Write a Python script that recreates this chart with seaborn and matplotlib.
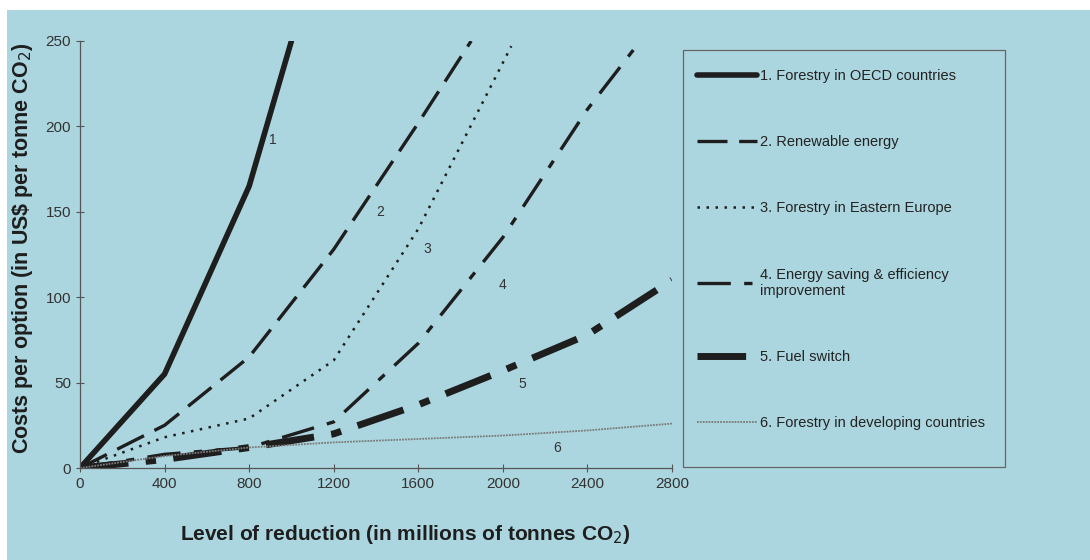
import matplotlib
matplotlib.use("Agg")
import matplotlib.pyplot as plt
import seaborn as sns
from matplotlib.patches import Rectangle

# Values
x1 = [0, 400, 800, 1000]
y1 = [0, 55, 165, 250]
x2 = [0, 400, 800, 1200, 1600, 1850]
y2 = [0, 25, 65, 128, 202, 250]
x3 = [0, 400, 800, 1200, 1600, 2040]
y3 = [0, 18, 29, 63, 140, 247]
x4 = [0, 400, 800, 1200, 1600, 2000, 2400, 2650]
y4 = [0, 8, 12, 27, 73, 135, 210, 250]
x5 = [0, 400, 800, 1200, 1600, 2000, 2400, 2800]
y5 = [0, 5, 12, 20, 37, 57, 78, 110]
x6 = [0, 400, 800, 1200, 1600, 2000, 2400, 2800]
y6 = [0, 7, 12, 15, 17, 19, 22, 26]

labels = ["1. Forestry in OECD countries",
          "2. Renewable energy",
          "3. Forestry in Eastern Europe",
          "4. Energy saving & efficiency\nimprovement",
          "5. Fuel switch",
          "6. Forestry in developing countries"]
x_ticks = [0, 400, 800, 1200, 1600, 2000, 2400, 2800]
y_ticks = [0, 50, 100, 150, 200, 250]

# number labels next to the curves
tags = ["1", "2", "3", "4", "5", "6"]
tag_x = [913, 1419, 1641, 2000, 2090, 2256]
tag_y = [192, 150, 128, 107, 49, 12]

bg = "#acd6df"
ink = "#1e1e1e"

sns.set_theme(style="white")
plt.rcParams["font.family"] = ["Liberation Sans", "DejaVu Sans"]

fig = plt.figure(figsize=(10.9, 5.6), dpi=100, facecolor="white")
fig.patches.append(Rectangle((7 / 1090, 0), 1, 550 / 560, transform=fig.transFigure,
                             facecolor=bg, edgecolor="none", zorder=-10))
# legend frame
fig.patches.append(Rectangle((683 / 1090, 1 - 467 / 560), 322 / 1090, 417 / 560,
                             transform=fig.transFigure, facecolor="none",
                             edgecolor="#666666", linewidth=0.9))
ax = fig.add_axes([80 / 1090, 92 / 560, 592 / 1090, 427 / 560])
ax.set_facecolor("none")

styles = [
    dict(color=ink, linewidth=4.0, linestyle="-"),
    dict(color=ink, linewidth=2.4, linestyle=(0, (9, 3.5))),
    dict(color=ink, linewidth=1.8, linestyle=(0, (1, 2.6))),
    dict(color=ink, linewidth=2.4, linestyle=(0, (10, 4, 2.5, 4))),
    dict(color=ink, linewidth=5.0, linestyle=(0, (7, 2.5, 1.5, 2.5))),
    dict(color="#7a7a7a", linewidth=1.3, linestyle=(0, (1, 0.6))),
]
series = [(x1, y1), (x2, y2), (x3, y3), (x4, y4), (x5, y5), (x6, y6)]
for (xs, ys), lab, st in zip(series, labels, styles):
    sns.lineplot(x=xs, y=ys, ax=ax, label=lab, **st)

for t, tx, ty in zip(tags, tag_x, tag_y):
    ax.text(tx, ty, t, fontsize=10, color="#333333", ha="center", va="center")

ax.set_xlim(0, 2800)
ax.set_ylim(0, 250)
ax.set_xticks(x_ticks)
ax.set_yticks(y_ticks)
ax.tick_params(axis="both", direction="inout", length=6, width=0.8, color="#555555",
               labelsize=11, labelcolor="#333333", bottom=True, left=True)
for side in ["top", "right"]:
    ax.spines[side].set_visible(False)
for side in ["left", "bottom"]:
    ax.spines[side].set_color("#555555")
    ax.spines[side].set_linewidth(0.9)

ax.set_xlabel("Level of reduction (in millions of tonnes CO$_2$)", fontsize=15,
              fontweight="bold", color=ink)
ax.set_ylabel("Costs per option (in US\\$ per tonne CO$_2$)", fontsize=15.5,
              fontweight="bold", color=ink)
ax.xaxis.set_label_coords(325 / 592, -55 / 427)
ax.yaxis.set_label_coords(-45 / 592, 0.514)

leg = ax.legend(loc="upper left", bbox_to_anchor=(697 / 1090, 1 - 69 / 560),
                bbox_transform=fig.transFigure, frameon=False,
                fontsize=10.5, handlelength=4.1, handletextpad=0.2,
                labelspacing=3.58, borderpad=0, borderaxespad=0)
for txt in leg.get_texts():
    txt.set_color("#222222")

fig.savefig("out.png", dpi=100, facecolor=fig.get_facecolor())
